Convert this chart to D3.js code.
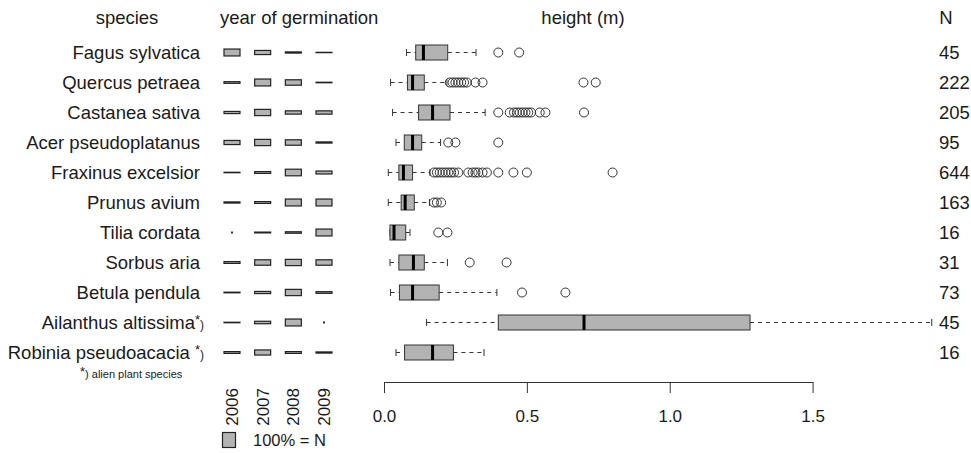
<!DOCTYPE html>
<html>
<head>
<meta charset="utf-8">
<script src="https://cdn.jsdelivr.net/npm/d3@7"></script>
<style>
body { margin: 0; background: #fff; }
text { font-family: "Liberation Sans", Arial, Helvetica, sans-serif; fill: #1a1a1a; }
</style>
</head>
<body>
<div id="chart"></div>
<script>
// species, sample size and alien flag
var species = ["Fagus sylvatica", "Quercus petraea", "Castanea sativa", "Acer pseudoplatanus",
  "Fraxinus excelsior", "Prunus avium", "Tilia cordata", "Sorbus aria", "Betula pendula",
  "Ailanthus altissima", "Robinia pseudoacacia"]
var alien = [false, false, false, false, false, false, false, false, false, true, true]
var nValues = [45, 222, 205, 95, 644, 163, 16, 31, 73, 45, 16]

// year of germination, share of N (%)
var years = ["2006", "2007", "2008", "2009"]
var germShare = [
  [42, 25, 7, 2],
  [10, 42, 33, 3],
  [13, 38, 20, 20],
  [25, 38, 33, 7],
  [3, 11, 40, 18],
  [7, 11, 42, 42],
  [0, 5, 9, 42],
  [11, 33, 38, 33],
  [4, 13, 38, 10],
  [3, 15, 42, 0],
  [11, 31, 11, 7]
]

// height (m) box plot stats
var whiskLo = [0.079, 0.023, 0.030, 0.042, 0.015, 0.015, 0.021, 0.021, 0.023, 0.149, 0.042]
var boxLo   = [0.111, 0.082, 0.121, 0.071, 0.052, 0.060, 0.021, 0.052, 0.054, 0.400, 0.072]
var medians = [0.138, 0.100, 0.170, 0.100, 0.068, 0.074, 0.035, 0.103, 0.100, 0.700, 0.170]
var boxHi   = [0.223, 0.141, 0.231, 0.132, 0.100, 0.106, 0.076, 0.141, 0.193, 1.281, 0.243]
var whiskHi = [0.322, 0.220, 0.354, 0.198, 0.161, 0.159, 0.091, 0.222, 0.395, 1.917, 0.350]
var outliers = [
  [0.40, 0.473],
  [0.23, 0.24, 0.25, 0.26, 0.27, 0.28, 0.29, 0.32, 0.345, 0.698, 0.741],
  [0.40, 0.44, 0.455, 0.465, 0.475, 0.485, 0.495, 0.505, 0.515, 0.545, 0.565, 0.70],
  [0.225, 0.25, 0.40],
  [0.175, 0.185, 0.195, 0.205, 0.215, 0.225, 0.235, 0.245, 0.26, 0.295, 0.31, 0.32, 0.33, 0.345, 0.36, 0.40, 0.453, 0.50, 0.80],
  [0.175, 0.185, 0.20],
  [0.19, 0.222],
  [0.30, 0.429],
  [0.483, 0.635],
  [],
  []
]
var heightTicks = [0, 0.5, 1.0, 1.5]

var W = 971, H = 453
var ink = "#333"
var boxFill = "#b3b3b3"

var svg = d3.select("#chart").append("svg")
  .attr("width", W)
  .attr("height", H)

var y = d3.scalePoint().domain(species).range([52.5, 352.5])
var x = d3.scaleLinear().domain([0, 1.5]).range([384, 812.6])
var xYear = d3.scalePoint().domain(years).range([232, 324])
var hShare = d3.scaleLinear().domain([0, 100]).range([0, 16.5])

// headers
svg.append("text").attr("x", 127).attr("y", 24).attr("text-anchor", "middle").style("font-size", "18.5px").text("species")
svg.append("text").attr("x", 220).attr("y", 24).style("font-size", "18.5px").text("year of germination")
svg.append("text").attr("x", 583).attr("y", 24).attr("text-anchor", "middle").style("font-size", "18.5px").text("height (m)")
svg.append("text").attr("x", 946).attr("y", 24).attr("text-anchor", "middle").style("font-size", "18.5px").text("N")

// species labels
var lab = svg.selectAll(".sp").data(species)
  .enter().append("text")
  .attr("class", "sp")
  .attr("x", function(d, i){ return alien[i] ? 204 : 200 })
  .attr("y", function(d){ return y(d) + 6.5 })
  .attr("text-anchor", "end")
  .style("font-size", "18.5px")
lab.append("tspan").text(function(d, i){ return d + (alien[i] && d.indexOf("Robinia") == 0 ? " " : "") })
lab.filter(function(d, i){ return alien[i] })
  .append("tspan").attr("dy", -5).style("font-size", "13px").text("*")
lab.filter(function(d, i){ return alien[i] })
  .append("tspan").attr("dy", 5).style("font-size", "12px").text(")")

// footnote
var fn = svg.append("text").attr("x", 80).attr("y", 378)
fn.append("tspan").attr("dy", -2.5).style("font-size", "13px").text("*")
fn.append("tspan").attr("dy", 2.5).style("font-size", "11px").text(") alien plant species")

// germination boxes
var cells = []
germShare.forEach(function(row, i){
  row.forEach(function(v, j){ cells.push({sp: species[i], year: years[j], v: v}) })
})
svg.selectAll(".germ").data(cells.filter(function(d){ return d.v > 0 }))
  .enter().append("rect")
  .attr("class", "germ")
  .attr("x", function(d){ return xYear(d.year) - 8 })
  .attr("width", 16)
  .attr("y", function(d){ return y(d.sp) - hShare(d.v) / 2 })
  .attr("height", function(d){ return hShare(d.v) })
  .attr("fill", boxFill)
  .attr("stroke", "#222")
  .attr("stroke-width", 1.2)
svg.selectAll(".germ0").data(cells.filter(function(d){ return d.v == 0 }))
  .enter().append("rect")
  .attr("class", "germ0")
  .attr("x", function(d){ return xYear(d.year) - 1 })
  .attr("width", 2)
  .attr("y", function(d){ return y(d.sp) - 1 })
  .attr("height", 2)
  .attr("fill", ink)

// year labels
svg.selectAll(".yr").data(years)
  .enter().append("text")
  .attr("class", "yr")
  .attr("transform", function(d){ return "translate(" + (xYear(d) + 6) + ",388) rotate(-90)" })
  .attr("text-anchor", "end")
  .style("font-size", "17px")
  .text(function(d){ return d })

// legend
svg.append("rect").attr("x", 222.5).attr("y", 432.5).attr("width", 13).attr("height", 15)
  .attr("fill", boxFill).attr("stroke", "#222").attr("stroke-width", 1.2)
svg.append("text").attr("x", 253).attr("y", 446).style("font-size", "16.5px").text("100% = N")

// box plots
var rows = species.map(function(s, i){
  return {sp: s, lo: whiskLo[i], q1: boxLo[i], med: medians[i], q3: boxHi[i], hi: whiskHi[i], out: outliers[i]}
})
var g = svg.selectAll(".bp").data(rows).enter().append("g").attr("class", "bp")

g.filter(function(d){ return d.lo < d.q1 }).append("line")
  .attr("x1", function(d){ return x(d.lo) }).attr("x2", function(d){ return x(d.q1) })
  .attr("y1", function(d){ return y(d.sp) }).attr("y2", function(d){ return y(d.sp) })
  .attr("stroke", ink).attr("stroke-dasharray", "4,4")
g.append("line")
  .attr("x1", function(d){ return x(d.q3) }).attr("x2", function(d){ return x(d.hi) })
  .attr("y1", function(d){ return y(d.sp) }).attr("y2", function(d){ return y(d.sp) })
  .attr("stroke", ink).attr("stroke-dasharray", "4,4")
g.append("line")
  .attr("x1", function(d){ return x(d.lo) }).attr("x2", function(d){ return x(d.lo) })
  .attr("y1", function(d){ return y(d.sp) - 3.5 }).attr("y2", function(d){ return y(d.sp) + 3.5 })
  .attr("stroke", ink)
g.append("line")
  .attr("x1", function(d){ return x(d.hi) }).attr("x2", function(d){ return x(d.hi) })
  .attr("y1", function(d){ return y(d.sp) - 3.5 }).attr("y2", function(d){ return y(d.sp) + 3.5 })
  .attr("stroke", ink)
g.append("rect")
  .attr("x", function(d){ return x(d.q1) })
  .attr("width", function(d){ return x(d.q3) - x(d.q1) })
  .attr("y", function(d){ return y(d.sp) - 7.5 })
  .attr("height", 15)
  .attr("fill", boxFill).attr("stroke", ink)
g.append("line")
  .attr("x1", function(d){ return x(d.med) }).attr("x2", function(d){ return x(d.med) })
  .attr("y1", function(d){ return y(d.sp) - 7.5 }).attr("y2", function(d){ return y(d.sp) + 7.5 })
  .attr("stroke", "#000").attr("stroke-width", 3)
g.selectAll(".out").data(function(d){ return d.out.map(function(v){ return {sp: d.sp, v: v} }) })
  .enter().append("circle")
  .attr("class", "out")
  .attr("cx", function(d){ return x(d.v) })
  .attr("cy", function(d){ return y(d.sp) })
  .attr("r", 4.5)
  .attr("fill", "none").attr("stroke", ink)

// N
svg.selectAll(".n").data(nValues)
  .enter().append("text")
  .attr("class", "n")
  .attr("x", 939)
  .attr("y", function(d, i){ return y(species[i]) + 6.5 })
  .style("font-size", "18.5px")
  .text(function(d){ return d })

// height axis
var axis = svg.append("g")
  .attr("transform", "translate(0,382)")
  .call(d3.axisBottom(x).tickValues(heightTicks).tickFormat(d3.format(".1f")).tickSize(11).tickSizeOuter(0).tickPadding(17))
axis.select(".domain").attr("stroke", ink)
axis.selectAll(".tick line").attr("stroke", ink)
axis.selectAll(".tick text").style("font-size", "17px").style("font-family", "'Liberation Sans', Arial, sans-serif").attr("fill", "#1a1a1a")
</script>
</body>
</html>
